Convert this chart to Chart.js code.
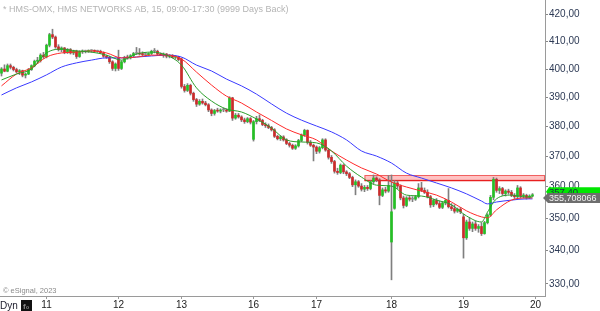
<!DOCTYPE html>
<html><head><meta charset="utf-8">
<script src="https://cdn.jsdelivr.net/npm/chart.js@4.4.0/dist/chart.umd.min.js"></script>
<style>html,body{margin:0;padding:0;background:#fff;overflow:hidden}canvas{display:block}</style>
</head><body>
<canvas id="c" width="600" height="311"></canvas>
<script>
const titleText = '* HMS-OMX, HMS NETWORKS AB, 15, 09:00-17:30 (9999 Days Back)';
const copyrightText = '\u00a9 eSignal, 2023';
const dayLabels = ['11','12','13','16','17','18','19','20'];
const dayStartIdx = [15,39,60,84,105,130,154,178];
const yTicks = [330,340,350,360,370,380,390,400,410,420];

const open = [
398.5,400.0,399.2,401.2,400.6,399.8,399.0,399.4,397.8,398.2,399.8,401.2,402.8,403.0,405.0,
404.4,408.6,412.5,411.6,408.0,407.0,407.6,406.0,407.0,405.8,406.5,404.5,406.2,406.4,406.4,406.6,406.6,406.4,406.4,405.8,404.6,404.2,402.6,400.2,
404.0,400.2,402.6,404.2,404.0,404.8,405.6,405.6,405.4,405.2,405.2,405.6,406.4,406.4,405.4,405.0,405.4,404.6,404.8,404.2,404.4,
403.6,393.8,392.4,394.2,391.4,389.2,387.6,388.6,388.0,387.4,385.6,384.4,385.4,385.2,385.6,385.6,385.2,389.8,382.8,383.8,383.2,382.2,381.6,382.6,
375.6,381.6,382.6,382.0,380.6,380.2,379.6,378.8,376.6,375.8,376.4,375.4,374.2,373.6,372.6,373.4,375.2,377.0,378.6,374.6,373.6,
373.0,371.6,372.8,375.4,372.0,369.6,368.2,365.0,364.6,367.0,364.8,364.2,363.0,360.6,361.6,360.2,359.2,359.8,359.4,361.6,362.8,362.2,357.2,359.0,358.6,
342.6,353.1,361.2,360.2,356.4,354.0,356.4,356.0,356.0,356.8,359.6,358.8,358.2,356.8,354.2,355.6,354.6,353.4,354.8,355.6,353.6,353.0,352.2,352.8,
350.4,343.9,348.8,346.8,348.2,346.8,347.4,345.2,348.6,351.0,356.6,362.4,358.8,359.4,357.8,358.6,358.2,357.2,356.8,359.6,357.0,357.2,356.6,357.0
];
const high = [
400.5,401.5,401.8,401.8,401.0,400.3,399.8,399.6,398.6,400.2,401.5,403.2,404.2,405.5,406.0,
409.0,413.0,414.5,412.0,408.8,408.0,407.8,407.4,407.4,406.8,406.8,406.6,406.9,406.8,406.9,406.9,406.9,406.8,406.8,406.2,405.0,404.6,403.0,402.2,
406.8,403.0,404.6,405.0,405.2,406.0,407.8,407.4,406.2,405.8,405.8,406.8,407.4,406.8,405.8,405.8,405.6,405.2,405.2,404.8,404.6,
404.0,394.5,394.8,394.6,391.8,389.6,389.2,389.4,388.6,387.8,386.0,385.8,386.2,386.0,386.2,386.0,390.2,390.0,384.4,384.4,383.6,382.8,383.0,383.0,
382.0,383.4,383.9,382.4,381.2,380.8,380.0,379.2,377.0,376.8,376.8,375.8,374.6,374.0,373.8,375.6,377.4,379.0,378.8,375.2,374.0,
373.4,373.2,375.8,375.8,372.4,370.2,368.6,366.0,367.4,367.2,365.2,364.6,363.4,362.2,362.0,361.0,360.4,360.4,362.0,363.8,363.2,362.6,359.6,359.8,363.6,
363.8,362.0,361.8,360.6,357.0,356.8,357.0,356.8,357.2,361.0,361.4,359.6,359.0,357.2,356.0,356.2,355.4,355.2,356.0,359.4,354.6,354.2,353.2,353.4,
351.2,349.4,350.2,348.8,349.0,348.0,348.6,349.0,351.4,357.2,363.0,362.8,360.0,359.8,359.0,359.2,358.8,357.8,360.4,360.0,357.8,357.6,357.4,357.8
];
const low = [
397.5,399.0,399.0,400.0,399.3,398.6,398.0,397.2,396.8,398.0,399.5,400.8,402.0,402.5,403.8,
404.0,408.0,411.0,407.5,406.5,406.2,405.5,405.6,405.4,405.2,403.8,404.2,405.6,405.8,406.0,406.0,406.1,406.0,405.6,404.2,403.8,402.0,399.5,399.3,
399.5,399.8,402.2,403.5,403.6,404.4,405.2,405.0,404.8,404.6,404.8,405.2,405.8,405.0,404.8,404.2,404.0,404.0,404.0,403.6,403.0,
393.2,391.8,392.0,390.8,388.6,386.8,387.2,387.6,387.0,385.0,383.6,383.8,384.8,384.6,385.0,384.8,385.0,382.0,382.4,382.8,381.6,381.0,381.2,380.8,
375.0,380.8,381.6,380.2,379.6,379.2,378.4,376.2,375.4,375.2,375.0,373.8,373.0,372.2,372.2,373.0,374.8,376.6,374.0,373.2,368.4,
370.8,371.0,372.4,371.6,369.0,367.6,364.4,364.0,364.2,364.2,363.6,362.6,360.0,357.4,359.8,358.6,358.4,358.8,359.0,361.0,361.6,354.2,356.8,358.0,358.2,
331.2,352.8,359.4,355.8,353.2,353.6,355.4,355.2,355.6,356.4,358.4,357.8,356.4,353.4,353.6,354.2,353.0,353.0,354.2,353.2,352.4,351.6,351.8,351.4,
337.7,343.4,346.2,345.8,346.2,345.6,344.6,345.0,348.2,350.6,355.8,358.2,357.8,357.2,357.0,357.6,356.8,356.2,356.4,356.4,356.4,356.0,356.2,356.8
];
const close = [
400.0,399.2,401.2,400.6,399.8,399.0,399.4,397.8,398.2,399.8,401.2,402.8,403.0,405.0,404.4,
408.6,412.5,411.6,408.0,407.0,407.6,406.0,407.0,405.8,406.5,404.5,406.2,406.4,406.4,406.6,406.6,406.4,406.4,405.8,404.6,404.2,402.6,400.2,401.8,
400.2,402.6,404.2,404.0,404.8,405.6,405.6,405.4,405.2,405.2,405.6,406.4,406.4,405.4,405.0,405.4,404.6,404.8,404.2,404.4,403.4,
393.8,392.4,394.2,391.4,389.2,387.6,388.6,388.0,387.4,385.6,384.4,385.4,385.2,385.6,385.6,385.2,389.8,382.8,383.8,383.2,382.2,381.6,382.6,381.4,
381.6,382.6,382.0,380.6,380.2,379.6,378.8,376.6,375.8,376.4,375.4,374.2,373.6,372.6,373.4,375.2,377.0,378.6,374.6,373.6,373.0,
371.6,372.8,375.4,372.0,369.6,368.2,365.0,364.6,367.0,364.8,364.2,363.0,360.6,361.6,360.2,359.2,359.8,359.4,361.6,362.8,362.2,357.2,359.0,358.6,360.4,
352.0,361.2,360.2,356.4,354.0,356.4,356.0,356.0,356.8,359.6,358.8,358.2,356.8,354.2,355.6,354.6,353.4,354.8,355.6,353.6,353.0,352.2,352.8,352.0,
343.9,348.8,346.8,348.2,346.8,347.4,345.2,348.6,351.0,356.6,362.4,358.8,359.4,357.8,358.6,358.2,357.2,356.8,359.6,357.0,357.2,356.6,357.0,357.4
];

const maIdx  = [0,5,10,15,20,25,30,35,40,45,50,55,60,65,70,75,80,85,90,95,100,105,110,115,120,125,130,135,140,145,150,155,160,162,165,170,175,177];
const maFast = [396.1,398.2,400.0,405.8,407.2,406.5,406.1,405.0,403.2,405.4,406.1,405.0,401.4,393.3,388.7,385.9,384.9,382.5,379.4,375.4,374.7,374.4,371.7,366.7,363.1,360.5,360.2,357.3,357.0,355.7,354.2,350.7,348.8,351.9,356.1,357.3,356.7,356.7];
const maMid  = [394.0,398.2,400.4,404.3,405.8,406.1,406.5,405.8,404.0,404.3,405.0,405.0,403.6,398.9,394.3,390.4,388.0,384.9,382.0,379.1,377.1,375.4,371.7,368.7,366.1,364.1,361.5,359.9,358.6,357.3,355.1,352.3,350.4,350.1,352.6,355.7,356.4,356.4];
const maSlow = [390.8,393.3,395.4,397.9,400.7,402.2,403.2,404.0,404.0,404.3,404.7,405.0,404.3,401.4,399.3,396.4,394.0,391.1,387.7,384.5,382.1,380.1,378.1,375.4,371.7,370.0,367.7,364.4,362.8,361.2,359.6,357.7,355.4,354.5,355.1,355.7,356.1,356.1];

const zoneTop = 363.8, zoneBottom = 362.3, zoneStartIdx = 121;
const lastPrice = 357.40, lastPriceText = '357,40';
const studyValue = 355.708066, studyText = '355,708066';

const FONT = '"Liberation Sans", Arial, sans-serif';
Chart.defaults.font.family = FONT;

const UP = '#25c025', DOWN = '#cc2b2b', FLAT = '#8c8c8c', WICK = '#7f7f7f';
const bodyColors = close.map((c, i) => c > open[i] ? UP : (c < open[i] ? DOWN : FLAT));

const bandPlugin = {
  id: 'band',
  beforeDatasetsDraw(chart) {
    const {ctx, chartArea, scales: {x, y}} = chart;
    const x0 = x.getPixelForValue(zoneStartIdx), x1 = chartArea.right;
    const yT = y.getPixelForValue(zoneTop), yB = y.getPixelForValue(zoneBottom);
    ctx.save();
    ctx.fillStyle = '#ffc2c2';
    ctx.fillRect(x0, yT, x1 - x0, yB - yT);
    ctx.strokeStyle = '#f06060'; ctx.lineWidth = 1;
    ctx.strokeRect(x0 + 0.5, Math.round(yT) + 0.5, x1 - x0 - 1, Math.round(yB - yT));
    ctx.strokeStyle = '#e82020'; ctx.lineWidth = 1.5;
    ctx.beginPath(); ctx.moveTo(x0, Math.round(yB) + 0.5); ctx.lineTo(x1, Math.round(yB) + 0.5); ctx.stroke();
    ctx.restore();
  }
};

const textPlugin = {
  id: 'texts',
  afterDraw(chart) {
    const {ctx, chartArea, scales: {y}} = chart;
    ctx.save();
    ctx.textBaseline = 'alphabetic';
    ctx.fillStyle = '#b4b4b4';
    ctx.font = '9px ' + FONT;
    ctx.fillText(titleText, 3, 12);
    ctx.fillStyle = '#8a8a8a';
    ctx.font = '7.5px ' + FONT;
    ctx.fillText(copyrightText, 3, 293);
    ctx.fillStyle = '#1a1a2a';
    ctx.font = '10px ' + FONT;
    ctx.fillText('Dyn', 0, 309);
    ctx.fillStyle = '#111';
    ctx.fillRect(21, 300, 11, 11);
    ctx.fillStyle = '#8c8c8c';
    ctx.font = 'bold 8px ' + FONT;
    ctx.fillText('f\u2080', 23, 309);
    const R = chartArea.right;
    const yp = y.getPixelForValue(lastPrice) - 3;
    ctx.fillStyle = '#00e600';
    ctx.beginPath();
    ctx.moveTo(R + 1, yp); ctx.lineTo(R + 4, yp - 4.5); ctx.lineTo(600, yp - 4.5); ctx.lineTo(600, yp + 4.5); ctx.lineTo(R + 4, yp + 4.5); ctx.closePath();
    ctx.fill();
    ctx.fillStyle = '#1d2b4a';
    ctx.font = '9.5px ' + FONT;
    ctx.textBaseline = 'middle';
    ctx.fillText(lastPriceText, R + 4, yp + 0.5);
    const ys = y.getPixelForValue(studyValue) - 2;
    ctx.fillStyle = '#6e6e6e';
    ctx.beginPath();
    ctx.moveTo(R - 2, ys); ctx.lineTo(R + 3, ys - 5); ctx.lineTo(600, ys - 5); ctx.lineTo(600, ys + 5); ctx.lineTo(R + 3, ys + 5); ctx.closePath();
    ctx.fill();
    ctx.fillStyle = '#f2f2f2';
    ctx.font = '9px ' + FONT;
    ctx.fillText(studyText, R + 4, ys + 0.5);
    ctx.restore();
  }
};

const candleIdx = open.map((_, i) => i);

new Chart(document.getElementById('c'), {
  type: 'bar',
  data: {
    datasets: [
      { type: 'line', label: 'fast', data: maIdx.map((x, k) => ({x, y: maFast[k]})), borderColor: '#2a9e2a', borderWidth: 1, pointRadius: 0, cubicInterpolationMode: 'monotone', order: 0 },
      { type: 'line', label: 'mid', data: maIdx.map((x, k) => ({x, y: maMid[k]})), borderColor: '#ff2a2a', borderWidth: 1, pointRadius: 0, cubicInterpolationMode: 'monotone', order: 1 },
      { type: 'line', label: 'slow', data: maIdx.map((x, k) => ({x, y: maSlow[k]})), borderColor: '#3a3aff', borderWidth: 1, pointRadius: 0, cubicInterpolationMode: 'monotone', order: 2 },
      { label: 'body', data: candleIdx.map(i => ({x: i, y: [open[i], close[i]]})), backgroundColor: bodyColors, barThickness: 2, minBarLength: 1, grouped: false, order: 4 },
      { label: 'wick', data: candleIdx.map(i => ({x: i, y: [low[i], high[i]]})), backgroundColor: WICK, barThickness: 1, grouped: false, order: 5 }
    ]
  },
  options: {
    responsive: false, animation: false, devicePixelRatio: 1,
    layout: { padding: 0 },
    plugins: { legend: { display: false }, tooltip: { enabled: false } },
    scales: {
      x: {
        type: 'linear', position: 'bottom', min: -0.5, max: 181.1667, offset: false,
        afterBuildTicks: s => { s.ticks = dayStartIdx.map(v => ({value: v})); },
        afterFit: s => { s.height = 15; s.paddingLeft = 0; s.paddingRight = 0; },
        grid: { display: true, drawOnChartArea: false, drawTicks: true, tickLength: 3, color: '#999', offset: false },
        border: { display: true, color: '#9a9a9a', width: 1 },
        ticks: { autoSkip: false, maxRotation: 0, padding: 0, color: '#222', font: { size: 10 },
          callback: v => { const k = dayStartIdx.indexOf(v); return k >= 0 ? dayLabels[k] : ''; } }
      },
      y: {
        type: 'logarithmic', position: 'right', min: 326.44, max: 425.49,
        afterBuildTicks: s => { s.ticks = yTicks.map(v => ({value: v})); },
        afterFit: s => { s.width = 55; s.paddingTop = 0; s.paddingBottom = 0; },
        grid: { display: true, drawOnChartArea: false, tickLength: 3, color: '#888' },
        border: { display: true, color: '#9a9a9a' },
        ticks: { autoSkip: false, padding: 1, color: '#2d3a55', font: { size: 10 },
          callback: v => Number(v).toFixed(2).replace('.', ',') }
      }
    }
  },
  plugins: [bandPlugin, textPlugin]
});
</script>
</body></html>
